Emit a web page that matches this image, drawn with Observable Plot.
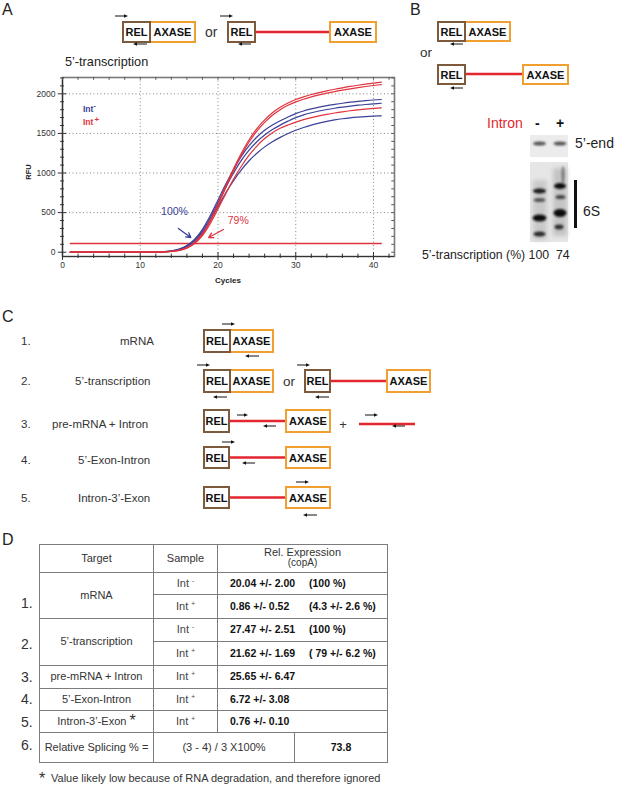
<!DOCTYPE html>
<html><head><meta charset="utf-8">
<script src="https://cdn.jsdelivr.net/npm/d3@7"></script>
<script src="https://cdn.jsdelivr.net/npm/@observablehq/plot@0.6"></script>
<style>
html,body{margin:0;padding:0;background:#fff;}
#page{position:relative;width:617px;height:789px;overflow:hidden;font-family:"Liberation Sans",Arial,sans-serif;color:#222;}
#chart{position:absolute;left:0;top:50px;}
#diag{position:absolute;left:0;top:0;}
#tbl{position:absolute;left:39px;top:544px;width:348px;border-collapse:collapse;table-layout:fixed;font-size:11px;color:#333;}
#tbl td{border:1.6px solid #7c7c7c;padding:0;text-align:center;vertical-align:middle;white-space:nowrap;line-height:1.05;}
#tbl td.s{color:#444;}
#tbl td.v{text-align:left;padding-left:12px;font-weight:bold;color:#111;font-size:10.5px;}
#tbl td.v span.a{display:inline-block;width:79px;}
#tbl sup{font-size:6.5px;vertical-align:4px;line-height:0;}
#tbl .h1{display:block;line-height:11px;height:11px;}
#tbl .h2{display:block;line-height:10px;height:10px;font-size:10px;margin-bottom:3px;}
</style></head><body>
<div id="page">
  <div id="chart"></div>
  <table id="tbl">
    <colgroup><col style="width:114px"><col style="width:64px"><col style="width:77px"><col style="width:93px"></colgroup>
    <tbody id="tbody"></tbody>
  </table>
  <svg id="diag" width="617" height="789" xmlns="http://www.w3.org/2000/svg"></svg>
</div>
<script>
// ---------------- DATA (panel A qPCR curves) ----------------
const cycles = [1,2,3,4,5,6,7,8,9,10,11,12,13,14,15,16,17,18,19,20,21,22,23,24,25,26,27,28,29,30,31,32,33,34,35,36,37,38,39,40,41];
const intMinus1 = [0,0,0,0,0,0,0,0,0,0,1,3,7,17,40,85,165,290,460,660,860,1045,1210,1345,1455,1540,1605,1660,1708,1750,1783,1809,1831,1850,1866,1881,1894,1905,1914,1922,1928];
const intMinus2 = [0,0,0,0,0,0,0,0,0,0,1,3,6,15,36,78,152,270,432,625,820,1000,1160,1290,1395,1480,1548,1605,1655,1700,1734,1761,1783,1802,1818,1832,1845,1856,1865,1873,1881];
const intMinus3 = [0,0,0,0,0,0,0,0,0,0,1,2,6,14,33,72,140,250,400,575,750,905,1040,1155,1250,1330,1395,1450,1498,1540,1575,1605,1630,1652,1670,1685,1697,1706,1713,1718,1722];
const intPlus1  = [0,0,0,0,0,0,0,0,0,0,0,1,4,10,25,60,125,235,400,610,835,1055,1250,1420,1560,1670,1760,1830,1885,1928,1962,1991,2016,2038,2058,2076,2093,2108,2122,2135,2147];
const intPlus2  = [0,0,0,0,0,0,0,0,0,0,0,1,4,10,24,57,120,228,390,595,815,1030,1225,1392,1530,1640,1730,1800,1855,1898,1932,1961,1986,2008,2028,2046,2063,2078,2092,2105,2117];
const intPlus3  = [0,0,0,0,0,0,0,0,0,0,0,1,3,9,22,52,110,210,360,545,740,925,1085,1225,1340,1435,1510,1565,1607,1643,1674,1700,1722,1741,1758,1773,1786,1797,1807,1815,1823];
const seriesIds = ["Int- 1","Int- 2","Int- 3","Int+ 1","Int+ 2","Int+ 3"];
const seriesGroups = ["Int-","Int-","Int-","Int+","Int+","Int+"];
const seriesValues = [intMinus1,intMinus2,intMinus3,intPlus1,intPlus2,intPlus3];
const thresholdRFU = 110;
const thresholdCycles = [1, 41];
const xTicks = [0,10,20,30,40];
const yTicks = [0,500,1000,1500,2000];
const xMinorTicks = [2,4,6,8,12,14,16,18,22,24,26,28,32,34,36,38,42];
const yMinorTicks = [100,200,300,400,600,700,800,900,1100,1200,1300,1400,1600,1700,1800,1900,2100,2200];
const annotLabels = [{cycle:14.4, rfu:510, label:"100%", group:"Int-"},{cycle:22.6, rfu:400, label:"79%", group:"Int+"}];
const annotArrows = [{c1:14.9, r1:300, c2:16.5, r2:186, group:"Int-"},{c1:20.7, r1:287, c2:18.8, r2:186, group:"Int+"}];

// table data (panel D)
const tableRows = [
  {target:"mRNA", sample:"-", value:"20.04 +/- 2.00", pct:"(100 %)", span:2},
  {target:null, sample:"+", value:"0.86 +/- 0.52", pct:"(4.3 +/- 2.6 %)"},
  {target:"5’-transcription", sample:"-", value:"27.47 +/- 2.51", pct:"(100 %)", span:2},
  {target:null, sample:"+", value:"21.62 +/- 1.69", pct:"( 79 +/- 6.2 %)"},
  {target:"pre-mRNA + Intron", sample:"+", value:"25.65 +/- 6.47", pct:""},
  {target:"5’-Exon-Intron", sample:"+", value:"6.72 +/- 3.08", pct:""},
  {target:"Intron-3’-Exon", star:true, sample:"+", value:"0.76 +/- 0.10", pct:""}
];
const tableRowHeights = [22,24,23,24,23,22,22];

// ---------------- CHART ----------------
const BLUE = "#3b4199", RED = "#e0333d";
const rows = [];
seriesValues.forEach((vals,i)=>vals.forEach((v,j)=>rows.push({cycle:cycles[j], rfu:v, id:seriesIds[i], group:seriesGroups[i]})));
const thrRows = thresholdCycles.map(c=>({cycle:c, rfu:thresholdRFU}));
const X0 = 0, X1 = 42.7, Y0 = -54, Y1 = 2206;

const chart = Plot.plot({
  width: 400, height: 240,
  marginLeft: 62, marginRight: 6, marginTop: 27, marginBottom: 34,
  x: {domain:[X0,X1], axis:null},
  y: {domain:[Y0,Y1], axis:null},
  color: {domain:["Int-","Int+"], range:[BLUE, RED]},
  style: {background:"transparent", fontFamily:"Liberation Sans, Arial, sans-serif", fontSize:"8.5px", color:"#333"},
  marks: [
    Plot.gridX(xTicks.slice(1), {stroke:"#888", strokeOpacity:1, strokeDasharray:"1,2.5"}),
    Plot.gridY(yTicks.slice(1), {stroke:"#888", strokeOpacity:1, strokeDasharray:"1,2.5"}),
    Plot.frame({stroke:"#7a7a7a", strokeWidth:1.6}),
    Plot.ruleX([X0], {stroke:"#333", strokeWidth:1.2}),
    Plot.ruleY([Y0], {stroke:"#333", strokeWidth:1.2}),
    Plot.ruleY(yMinorTicks, {x1:-0.25, x2:0.25, stroke:"#333"}),
    Plot.ruleY(yTicks, {x1:-0.55, x2:0.55, stroke:"#333"}),
    Plot.ruleY(yMinorTicks.concat(yTicks), {x1:X1-0.35, x2:X1, stroke:"#555"}),
    Plot.ruleX(xMinorTicks, {y1:Y0-25, y2:Y0+30, stroke:"#333"}),
    Plot.ruleX(xTicks, {y1:Y0-50, y2:Y0+50, stroke:"#333"}),
    Plot.ruleX(xMinorTicks.concat(xTicks), {y1:Y1-35, y2:Y1, stroke:"#555"}),
    Plot.axisX({ticks:xTicks, tickSize:0, tickPadding:5, label:null, fontSize:8.5, tickFormat:d3.format("d")}),
    Plot.axisY({ticks:yTicks, tickSize:0, tickPadding:7, label:null, fontSize:8.5, tickFormat:d3.format("d")}),
    Plot.line(thrRows, {x:"cycle", y:"rfu", stroke:RED, strokeWidth:1.3}),
    Plot.line(rows, {x:"cycle", y:"rfu", z:"id", stroke:"group", strokeWidth:1.2, curve:"monotone-x"}),
    Plot.text(annotLabels, {x:"cycle", y:"rfu", text:"label", fill:"group", fontSize:10.5}),
    Plot.arrow(annotArrows, {x1:"c1", y1:"r1", x2:"c2", y2:"r2", stroke:"group", strokeWidth:1.3, headLength:6})
  ]
});
document.getElementById("chart").appendChild(chart);

// ---------------- TABLE ----------------
const tb = document.getElementById("tbody");
let html = `<tr style="height:28px"><td>Target</td><td>Sample</td><td colspan="2"><span class="h1">Rel. Expression</span><span class="h2">(copA)</span></td></tr>`;
tableRows.forEach((r,i)=>{
  let tr = `<tr style="height:${tableRowHeights[i]}px">`;
  if (r.target !== null) {
    const star = r.star ? ` <span style="font-size:16px;position:relative;top:1px;line-height:0">*</span>` : "";
    tr += `<td${r.span?` rowspan="${r.span}"`:""}>${r.target}${star}</td>`;
  }
  tr += `<td class="s">Int <sup>${r.sample}</sup></td>`;
  tr += `<td class="v" colspan="2"><span class="a">${r.value}</span><span>${r.pct}</span></td></tr>`;
  html += tr;
});
html += `<tr style="height:30px"><td>Relative Splicing % =</td><td colspan="2">(3 - 4) / 3 X100%</td><td style="font-weight:bold;color:#111;font-size:10.5px">73.8</td></tr>`;
tb.innerHTML = html;

// ---------------- DIAGRAMS / LABELS ----------------
const BROWN = "#7d5a3c", ORANGE = "#f0a030", LRED = "#e3262f";
let s = `<defs><filter id="bl" x="-50%" y="-50%" width="200%" height="200%"><feGaussianBlur stdDeviation="1.1"/></filter>
<filter id="bl2" x="-50%" y="-50%" width="200%" height="200%"><feGaussianBlur stdDeviation="2"/></filter></defs>`;
const T = (x,y,txt,fs,opt="") => `<text x="${x}" y="${y}" font-size="${fs}" ${opt}>${txt}</text>`;
const box = (x,y,w,h,c,label) => `<rect x="${x}" y="${y}" width="${w}" height="${h}" fill="white" stroke="${c}" stroke-width="2"/>` +
  `<text x="${x+w/2}" y="${y+h/2+4}" text-anchor="middle" font-weight="bold" font-size="11" fill="#111">${label}</text>`;
const relAx = (x,y,h,wr,wa) => box(x+wr,y,wa,h,ORANGE,"AXASE") + box(x,y,wr,h,BROWN,"REL");
const line = (x1,x2,y) => `<line x1="${x1}" x2="${x2}" y1="${y}" y2="${y}" stroke="${LRED}" stroke-width="2.6"/>`;
const arR = (x1,x2,y) => `<line x1="${x1}" x2="${x2-3}" y1="${y}" y2="${y}" stroke="#111" stroke-width="1"/><polygon points="${x2},${y} ${x2-4},${y-1.8} ${x2-4},${y+1.8}" fill="#111"/>`;
const arL = (x1,x2,y) => `<line x1="${x1+3}" x2="${x2}" y1="${y}" y2="${y}" stroke="#111" stroke-width="1"/><polygon points="${x1},${y} ${x1+4},${y-1.8} ${x1+4},${y+1.8}" fill="#111"/>`;
const spliced = (x,y,h,xa,wa) => line(x+25,xa,y+h/2) + box(x,y,25,h,BROWN,"REL") + box(xa,y,wa,h,ORANGE,"AXASE");

// panel letters
s += T(2,15,"A",16,'fill="#222"') + T(410,15,"B",16,'fill="#222"') + T(2,322,"C",16,'fill="#222"') + T(2,545,"D",16,'fill="#222"');

// Panel A diagram
s += relAx(123,22,20,27,45) + arR(115,128,16) + arL(133,147,44);
s += T(205,37,"or",14,'fill="#333"');
s += line(255,330,32) + box(228,22,27,20,BROWN,"REL") + box(330,22,46,20,ORANGE,"AXASE") + arR(220,233,16) + arL(238,251,44);
s += T(65,66,"5’-transcription",12.7,'fill="#222"');
// chart labels
s += `<text x="28" y="172" font-size="7.5" font-weight="bold" fill="#222" text-anchor="middle" transform="rotate(-90 28 172)" dy="3">RFU</text>`;
s += T(228,283,"Cycles",8,'font-weight="bold" fill="#222" text-anchor="middle"');
s += `<text x="83" y="112" font-size="8.5" font-weight="bold" fill="${BLUE}">Int<tspan dy="-4" font-size="7">-</tspan></text>`;
s += `<text x="83" y="124.5" font-size="8.5" font-weight="bold" fill="${RED}">Int<tspan dy="-3" dx="1" font-size="8">+</tspan></text>`;

// Panel B
s += relAx(438,22,19,27,45) + arL(450,463,44);
s += T(420,57,"or",13.5,'fill="#333"');
s += line(465,523,74) + box(438,65,27,19,BROWN,"REL") + box(523,65,45,19,ORANGE,"AXASE") + arL(450,463,88);
s += T(487,128,"Intron",14,`fill="${LRED}"`) + T(535,128,"-",14,'font-weight="bold" fill="#111"') + T(556,128,"+",14,'font-weight="bold" fill="#111"');
// gel
s += `<rect x="530" y="135" width="38" height="22" fill="#ececec"/>`;
s += `<ellipse cx="539.5" cy="143.5" rx="6.5" ry="2" fill="#555" filter="url(#bl)"/><ellipse cx="560" cy="143.5" rx="6.5" ry="2" fill="#555" filter="url(#bl)"/>`;
s += `<rect x="530" y="162" width="38" height="80" fill="#e6e6e6"/>`;
s += `<rect x="533" y="180" width="14" height="60" fill="#c9c9c9" filter="url(#bl2)"/><rect x="553" y="168" width="14" height="68" fill="#c4c4c4" filter="url(#bl2)"/>`;
s += `<ellipse cx="539.5" cy="191" rx="6.5" ry="2.6" fill="#1c1c1c" filter="url(#bl)"/>`;
s += `<ellipse cx="539.5" cy="200" rx="6" ry="2" fill="#555" filter="url(#bl)"/>`;
s += `<ellipse cx="539.5" cy="218" rx="7" ry="3.5" fill="#111" filter="url(#bl)"/>`;
s += `<ellipse cx="539.5" cy="234" rx="6" ry="2.4" fill="#2a2a2a" filter="url(#bl)"/>`;
s += `<ellipse cx="563" cy="175" rx="1.5" ry="9" fill="#777" filter="url(#bl)"/>`;
s += `<ellipse cx="560" cy="186" rx="6" ry="3" fill="#111" filter="url(#bl)"/>`;
s += `<ellipse cx="560.5" cy="197" rx="5" ry="2" fill="#444" filter="url(#bl)"/>`;
s += `<ellipse cx="560" cy="213" rx="6.5" ry="4" fill="#111" filter="url(#bl)"/>`;
s += `<ellipse cx="559" cy="227" rx="4.5" ry="2.4" fill="#333" filter="url(#bl)"/>`;
s += `<rect x="574" y="180" width="3" height="48" fill="#111"/>`;
s += T(575,148,"5’-end",14,'fill="#222"') + T(583,216,"6S",14,'fill="#222"');
s += T(422,259,"5’-transcription (%) 100&#160;&#160;74",12.3,'fill="#222"');

// Panel C
const cRows = [[345,"1.","mRNA",120],[385,"2.","5’-transcription",75],[428,"3.","pre-mRNA + Intron",52],[464,"4.","5’-Exon-Intron",78],[502,"5.","Intron-3’-Exon",78]];
cRows.forEach(r=>{ s += T(21,r[0],r[1],11.5,'fill="#333"') + T(r[3],r[0],r[2],11.5,'fill="#333"'); });
s += relAx(204,330,22,26,43) + arR(222,235,324) + arL(245,259,356);
s += relAx(204,370,22,26,43) + arR(197,210,365) + arL(213,227,397);
s += T(283,386,"or",13.5,'fill="#333"');
s += line(330,387,381) + box(305,370,25,22,BROWN,"REL") + box(387,370,43,22,ORANGE,"AXASE") + arR(297,310,365) + arL(315,329,397);
s += spliced(204,410,22,286,44) + arR(237,248,415) + arL(263,276,426);
s += T(343,429,"+",13,'fill="#333" text-anchor="middle"');
s += line(359,415,424) + arR(365,378,415) + arL(392,405,426);
s += spliced(204,447,21,286,44) + arR(222,235,442) + arL(242,255,463);
s += spliced(204,487,21,286,44) + arR(296,309,482) + arL(303,317,515);

// Panel D numbers & footnote
[[608,"1."],[649,"2."],[682,"3."],[704,"4."],[727,"5."],[750,"6."]].forEach(r=>{ s += T(21,r[0],r[1],14,'fill="#333"'); });
s += T(39,784,"*",16,'fill="#333"') + T(51,782,"Value likely low because of RNA degradation, and therefore ignored",11,'fill="#333"');

document.getElementById("diag").innerHTML = s;
</script>
</body></html>
